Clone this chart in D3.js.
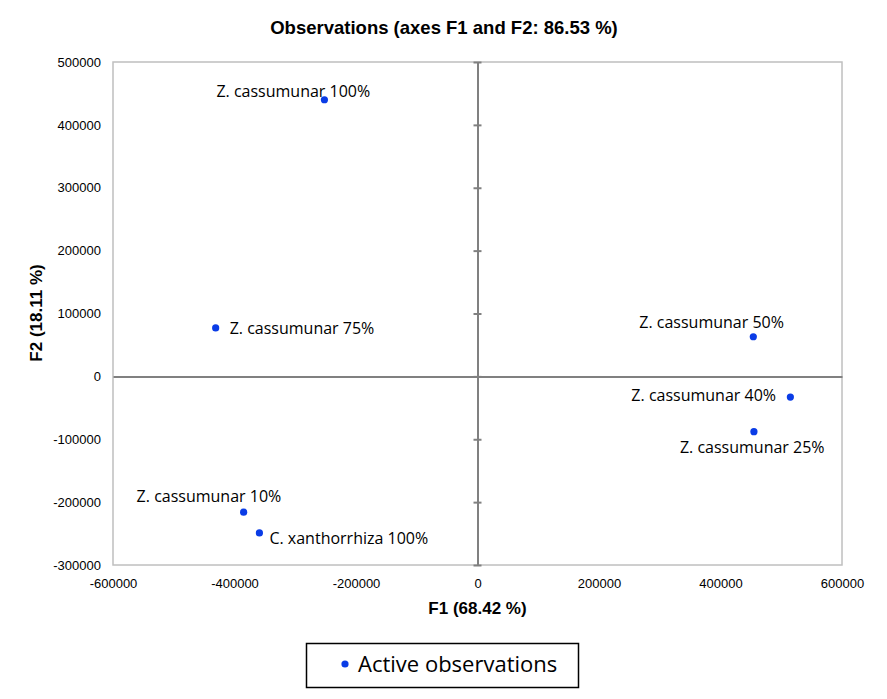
<!DOCTYPE html>
<html><head><meta charset="utf-8">
<script src="https://cdn.jsdelivr.net/npm/d3@7"></script>
<style>body{margin:0;background:#fff}svg{display:block}</style>
</head><body>
<svg id="c" width="887" height="699"></svg>
<script>
const labels = ["Z. cassumunar 100%","Z. cassumunar 75%","Z. cassumunar 50%","Z. cassumunar 40%","Z. cassumunar 25%","Z. cassumunar 10%","C. xanthorrhiza 100%"];
const f1 = [-252000,-431000,454000,515000,455000,-385000,-359000];
const f2 = [440000,77000,63000,-33000,-88000,-216000,-249000];
const xTicks = [-600000,-400000,-200000,0,200000,400000,600000];
const yTicks = [-300000,-200000,-100000,0,100000,200000,300000,400000,500000];
// label placement (offset of label start/baseline from the point, in px)
const labelPos = [[-108,-3],[14,6],[-114,-9],[-159,4],[-74,21],[-107,-10],[10,11]];

const svg = d3.select("#c");
const m = {l:113, r:842, t:62, b:565};
const x = d3.scaleLinear().domain([-600000,600000]).range([m.l,m.r]);
const y = d3.scaleLinear().domain([-300000,500000]).range([m.b,m.t]);
const sans = "Liberation Sans, Arial, sans-serif";

svg.append("text").attr("x",444).attr("y",34).attr("text-anchor","middle")
  .style("font-family",sans).style("font-weight","bold").style("font-size","18.5px")
  .text("Observations (axes F1 and F2: 86.53 %)");

svg.append("rect").attr("x",m.l).attr("y",m.t).attr("width",m.r-m.l).attr("height",m.b-m.t)
  .attr("fill","none").attr("stroke","#bfbfbf").attr("stroke-width",1.5);

// zero lines
const gx = svg.append("g").attr("transform",`translate(0,${y(0)})`)
  .call(d3.axisBottom(x).tickValues([]).tickSizeOuter(0));
gx.select(".domain").attr("stroke","#808080").attr("stroke-width",2);
const gy = svg.append("g").attr("transform",`translate(${x(0)},0)`)
  .call(d3.axisLeft(y).tickValues(yTicks).tickSize(0).tickSizeOuter(0).tickFormat(""));
gy.select(".domain").attr("stroke","#808080").attr("stroke-width",2);
gy.selectAll(".tick line").attr("x1",-4).attr("x2",4).attr("stroke","#808080").attr("stroke-width",2);

// tick labels
const tf = d => String(d);
const xl = svg.append("g").attr("transform",`translate(0,${m.b})`)
  .call(d3.axisBottom(x).tickValues(xTicks).tickSize(0).tickPadding(14).tickFormat(tf));
xl.select(".domain").remove();
xl.selectAll("text").style("font-family",sans).style("font-size","13px").attr("fill","#000");
const yl = svg.append("g").attr("transform",`translate(${m.l},0)`)
  .call(d3.axisLeft(y).tickValues(yTicks).tickSize(0).tickPadding(12).tickFormat(tf));
yl.select(".domain").remove();
yl.selectAll("text").style("font-family",sans).style("font-size","13px").attr("fill","#000");

svg.append("text").attr("x",477.5).attr("y",614).attr("text-anchor","middle")
  .style("font-family",sans).style("font-weight","bold").style("font-size","17px")
  .text("F1 (68.42 %)");
svg.append("text").attr("transform","translate(42,313) rotate(-90)").attr("text-anchor","middle")
  .style("font-family",sans).style("font-weight","bold").style("font-size","17px")
  .text("F2 (18.11 %)");

const pts = labels.map((l,i)=>({l, x:f1[i], y:f2[i], p:labelPos[i]}));
svg.append("g").selectAll("circle").data(pts).join("circle")
  .attr("cx",d=>x(d.x)).attr("cy",d=>y(d.y)).attr("r",3.6).attr("fill","#0a3ce6");
svg.append("g").selectAll("text").data(pts).join("text")
  .attr("x",d=>x(d.x)+d.p[0]).attr("y",d=>y(d.y)+d.p[1])
  .style("font-family","Open Sans, sans-serif").style("font-size","16px").attr("fill","#000")
  .text(d=>d.l);

// legend
svg.append("rect").attr("x",306.5).attr("y",643.5).attr("width",272).attr("height",44)
  .attr("fill","#fff").attr("stroke","#000").attr("stroke-width",1.5);
svg.append("circle").attr("cx",345).attr("cy",664).attr("r",3.6).attr("fill","#0a3ce6");
svg.append("text").attr("x",358).attr("y",672)
  .style("font-family","Open Sans, sans-serif").style("font-size","22px").attr("fill","#000")
  .text("Active observations");
</script>
</body></html>
